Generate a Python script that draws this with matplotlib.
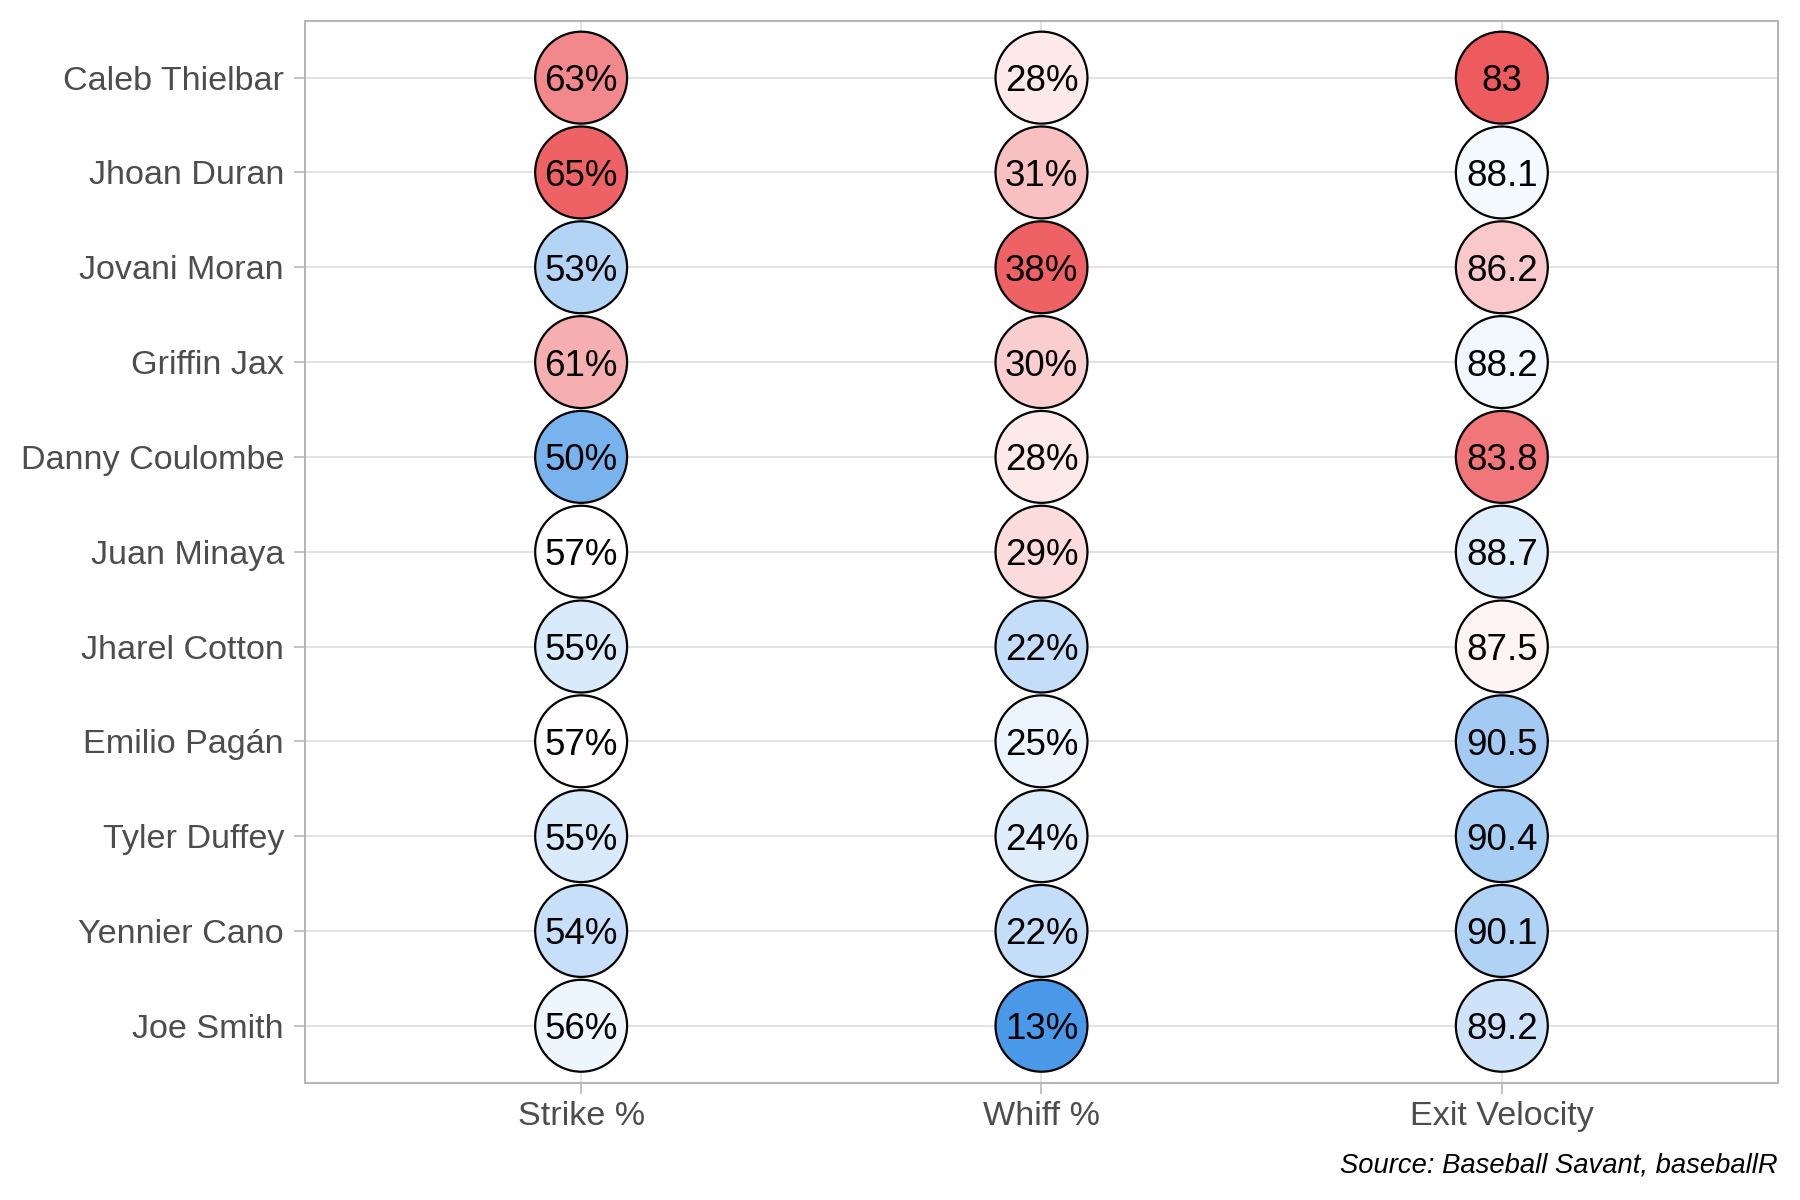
import numpy as np
import matplotlib.pyplot as plt
from matplotlib.colors import LinearSegmentedColormap, Normalize

plt.rcParams["font.family"] = ["Liberation Sans", "DejaVu Sans"]

pitchers = ["Caleb Thielbar", "Jhoan Duran", "Jovani Moran", "Griffin Jax",
            "Danny Coulombe", "Juan Minaya", "Jharel Cotton", "Emilio Pagán",
            "Tyler Duffey", "Yennier Cano", "Joe Smith"]
metrics = ["Strike %", "Whiff %", "Exit Velocity"]

strike_pct = [63, 65, 53, 61, 50, 57, 55, 57, 55, 54, 56]
whiff_pct = [28, 31, 38, 30, 28, 29, 22, 25, 24, 22, 13]
exit_velo = [83, 88.1, 86.2, 88.2, 83.8, 88.7, 87.5, 90.5, 90.4, 90.1, 89.2]

# higher is better for strike/whiff, lower is better for exit velocity
direction = [1, 1, -1]
labels = [[f"{v}%" for v in strike_pct],
          [f"{v}%" for v in whiff_pct],
          [f"{v:g}" for v in exit_velo]]

cols = [np.array(strike_pct, float), np.array(whiff_pct, float), np.array(exit_velo, float)]
z = [d * (c - c.mean()) / c.std(ddof=1) for c, d in zip(cols, direction)]
zmax = max(np.abs(zz).max() for zz in z)

cmap = LinearSegmentedColormap.from_list("bwr_soft", ["#4A98E8", "#FFFFFF", "#EB4A4E"])
norm = Normalize(-zmax, zmax)

fig = plt.figure(figsize=(18, 12), dpi=100)
ax = fig.add_axes([0.1694, 0.0978, 0.8184, 0.8849])

y = np.arange(len(pitchers))
for i, m in enumerate(metrics):
    ax.scatter(np.full(len(y), i), y, s=4380, c=cmap(norm(z[i])),
               edgecolors="black", linewidths=1.6, zorder=3)
    for yy, t in zip(y, labels[i]):
        ax.text(i, yy, t, ha="center", va="center_baseline", fontsize=26.5,
                color="black", zorder=4)

ax.set_xlim(-0.6, len(metrics) - 0.4)
ax.set_ylim(len(pitchers) - 0.4, -0.6)
ax.set_xticks(range(len(metrics)))
ax.set_xticklabels(metrics)
ax.set_yticks(y)
ax.set_yticklabels(pitchers)

ax.grid(True, color="#DADADA", linewidth=1.1, zorder=0)
ax.set_axisbelow(True)
for s in ax.spines.values():
    s.set_color("#B3B3B3")
    s.set_linewidth(1.4)
ax.tick_params(axis="both", colors="#B3B3B3", labelcolor="#4D4D4D",
               labelsize=24.6, length=8, width=1.1)
ax.tick_params(axis="y", pad=7)
ax.tick_params(axis="x", pad=5)

fig.text(0.9878, 1 - 1173 / 1200, "Source: Baseball Savant, baseballR",
         ha="right", va="baseline", fontsize=19.7, style="italic", color="black")

fig.savefig("out.png", dpi=100)
